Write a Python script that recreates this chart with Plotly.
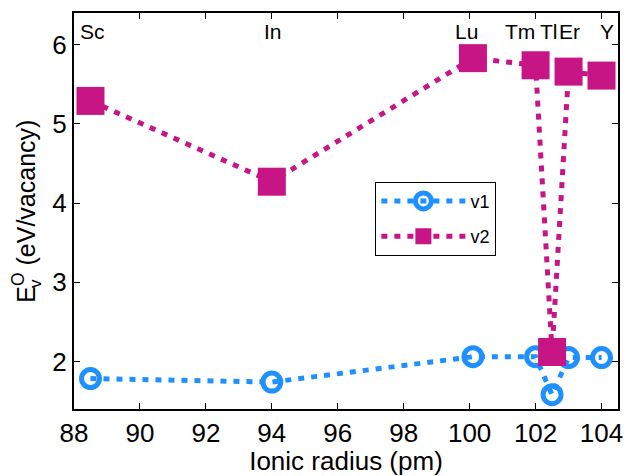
import plotly.graph_objects as go

elements = ["Sc", "In", "Lu", "Tm", "Tl", "Er", "Y"]
ionic_radius = [88.5, 94.0, 100.1, 102.0, 102.5, 103.0, 104.0]
v1 = [1.785, 1.74, 2.06, 2.06, 1.58, 2.05, 2.05]
v2 = [5.29, 4.27, 5.83, 5.74, 2.12, 5.66, 5.61]
x_ticks = [88, 90, 92, 94, 96, 98, 100, 102, 104]
y_ticks = [2, 3, 4, 5, 6]

BLUE = "#1E90FF"
MAGENTA = "#C71585"
FONT = "Liberation Sans, Arial, sans-serif"

fig = go.Figure()
fig.add_trace(go.Scatter(
    x=ionic_radius, y=v1, name="v1", mode="lines+markers", legendgroup="a",
    line=dict(color=BLUE, width=5, dash="6px,7px"),
    marker=dict(symbol="circle-open", size=18, color=BLUE, line=dict(width=5, color=BLUE)),
))
fig.add_trace(go.Scatter(
    x=ionic_radius, y=v2, name="v2", mode="lines+markers", legendgroup="b",
    line=dict(color=MAGENTA, width=5, dash="6px,7px"),
    marker=dict(symbol="square", size=28, color=MAGENTA, line=dict(width=0)),
))

label_shift = {"Sc": 2, "In": 1, "Lu": -6, "Tm": -16, "Tl": -3, "Er": 1, "Y": 5}
for el, xr in zip(elements, ionic_radius):
    fig.add_annotation(
        x=xr, y=1, xref="x", yref="paper", yanchor="top", xanchor="center",
        yshift=-5, xshift=label_shift[el], text=el, showarrow=False,
        font=dict(size=21, color="black", family=FONT),
    )

# y-axis title with stacked sub/superscript
fig.add_annotation(
    x=-0.125, y=0.262, xref="paper", yref="paper", xanchor="left", yanchor="bottom",
    text="E<sup>O</sup> (eV/vacancy)", textangle=-90, showarrow=False,
    font=dict(size=25, color="black", family=FONT),
)
fig.add_annotation(
    x=-0.072, y=0.318, xref="paper", yref="paper", xanchor="center", yanchor="middle",
    text="v", textangle=-90, showarrow=False,
    font=dict(size=17, color="black", family=FONT),
)

axis_common = dict(
    showline=True, linecolor="black", linewidth=2, mirror="ticks",
    ticks="inside", ticklen=6, tickwidth=1, tickcolor="black",
    showgrid=False, zeroline=False,
    tickfont=dict(size=26, color="black", family=FONT),
)
fig.update_xaxes(range=[88, 104.5], tickvals=x_ticks,
                 title=dict(text="Ionic radius (pm)", font=dict(size=26, color="black", family=FONT), standoff=4),
                 **axis_common)
fig.update_yaxes(range=[1.4, 6.4], tickvals=y_ticks, **axis_common)

fig.update_layout(
    width=629, height=476,
    margin=dict(l=74, r=6, t=13, b=64),
    plot_bgcolor="white", paper_bgcolor="white",
    font=dict(family=FONT, color="black"),
    legend=dict(x=0.554, y=0.574, xanchor="left", yanchor="top",
                bordercolor="black", borderwidth=1, bgcolor="white",
                font=dict(size=18, color="black", family=FONT),
                itemwidth=84, tracegroupgap=9),
    showlegend=True,
)

fig.write_html("out.html")
